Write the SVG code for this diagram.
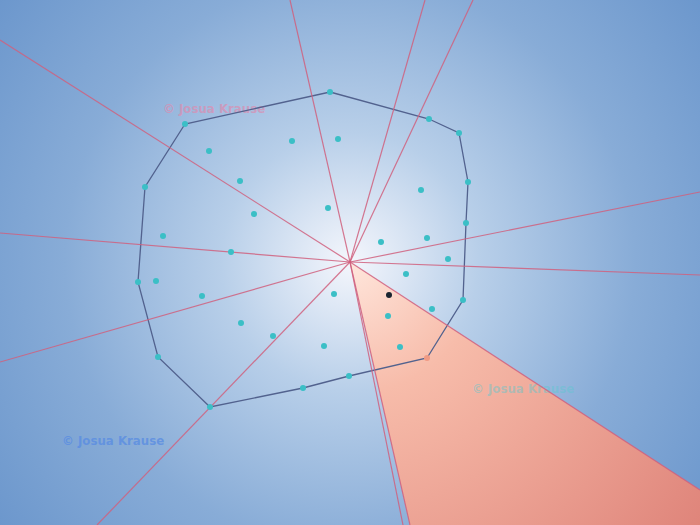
<svg xmlns="http://www.w3.org/2000/svg" width="700" height="525" viewBox="0 0 700 525">
<defs>
<radialGradient id="bg" gradientUnits="userSpaceOnUse" cx="350" cy="262" r="460">
<stop offset="0" stop-color="#f4f6fc"/>
<stop offset="0.28" stop-color="#b8cfe9"/>
<stop offset="0.62" stop-color="#88acd7"/>
<stop offset="1" stop-color="#6894cb"/>
</radialGradient>
<radialGradient id="wg" gradientUnits="userSpaceOnUse" cx="350" cy="262" r="440">
<stop offset="0" stop-color="#ffe6dc"/>
<stop offset="0.3" stop-color="#f7bcaa"/>
<stop offset="1" stop-color="#df847a"/>
</radialGradient>
<style>
.ray{stroke:#d0607e;stroke-width:1.2;fill:none;stroke-opacity:0.85}
.hull{stroke:#52628e;stroke-width:1.3;fill:none}
.pt{fill:#3bbfc6}
.wm{font-family:"DejaVu Sans",sans-serif;font-weight:bold;font-size:11.8px}
</style>
</defs>
<rect width="700" height="525" fill="url(#bg)"/>
<polygon points="350,262 410,525 700,525 700,490" fill="url(#wg)"/>
<text class="wm" x="163" y="113" fill="#d890b4" fill-opacity="0.75">© Josua Krause</text>
<text class="wm" x="62" y="445" fill="#5a8de2" fill-opacity="0.8">© Josua Krause</text>
<text class="wm" x="472" y="393" fill="#5cc8d0" fill-opacity="0.45">© Josua Krause</text>
<g id="connectors">
<polygon class="hull" points="330,92 429,119 459,133 468,182 466,223 463,300 427,358 349,376 303,388 210,407 158,357 138,282 145,187 185,124"/>
<g id="rays">
<line class="ray" x1="350" y1="262" x2="0" y2="40"/>
<line class="ray" x1="350" y1="262" x2="290" y2="0"/>
<line class="ray" x1="350" y1="262" x2="425" y2="0"/>
<line class="ray" x1="350" y1="262" x2="473" y2="0"/>
<line class="ray" x1="350" y1="262" x2="700" y2="192"/>
<line class="ray" x1="350" y1="262" x2="700" y2="275"/>
<line class="ray" x1="350" y1="262" x2="700" y2="490"/>
<line class="ray" x1="350" y1="262" x2="410" y2="525"/>
<line class="ray" x1="350" y1="262" x2="403" y2="525"/>
<line class="ray" x1="350" y1="262" x2="97" y2="525"/>
<line class="ray" x1="350" y1="262" x2="0" y2="362"/>
<line class="ray" x1="350" y1="262" x2="0" y2="233"/>
</g>
</g>
<g id="points">
<circle class="pt" cx="330" cy="92" r="3"/>
<circle class="pt" cx="429" cy="119" r="3"/>
<circle class="pt" cx="459" cy="133" r="3"/>
<circle class="pt" cx="468" cy="182" r="3"/>
<circle class="pt" cx="466" cy="223" r="3"/>
<circle class="pt" cx="463" cy="300" r="3"/>
<circle cx="427" cy="358" r="3" fill="#f09a84"/>
<circle class="pt" cx="349" cy="376" r="3"/>
<circle class="pt" cx="303" cy="388" r="3"/>
<circle class="pt" cx="210" cy="407" r="3"/>
<circle class="pt" cx="158" cy="357" r="3"/>
<circle class="pt" cx="138" cy="282" r="3"/>
<circle class="pt" cx="145" cy="187" r="3"/>
<circle class="pt" cx="185" cy="124" r="3"/>
<circle class="pt" cx="209" cy="151" r="3"/>
<circle class="pt" cx="292" cy="141" r="3"/>
<circle class="pt" cx="338" cy="139" r="3"/>
<circle class="pt" cx="240" cy="181" r="3"/>
<circle class="pt" cx="254" cy="214" r="3"/>
<circle class="pt" cx="328" cy="208" r="3"/>
<circle class="pt" cx="421" cy="190" r="3"/>
<circle class="pt" cx="163" cy="236" r="3"/>
<circle class="pt" cx="231" cy="252" r="3"/>
<circle class="pt" cx="381" cy="242" r="3"/>
<circle class="pt" cx="427" cy="238" r="3"/>
<circle class="pt" cx="448" cy="259" r="3"/>
<circle class="pt" cx="406" cy="274" r="3"/>
<circle class="pt" cx="156" cy="281" r="3"/>
<circle class="pt" cx="202" cy="296" r="3"/>
<circle class="pt" cx="334" cy="294" r="3"/>
<circle cx="389" cy="295" r="3" fill="#1a2430"/>
<circle class="pt" cx="432" cy="309" r="3"/>
<circle class="pt" cx="388" cy="316" r="3"/>
<circle class="pt" cx="241" cy="323" r="3"/>
<circle class="pt" cx="273" cy="336" r="3"/>
<circle class="pt" cx="324" cy="346" r="3"/>
<circle class="pt" cx="400" cy="347" r="3"/>
</g>
</svg>
